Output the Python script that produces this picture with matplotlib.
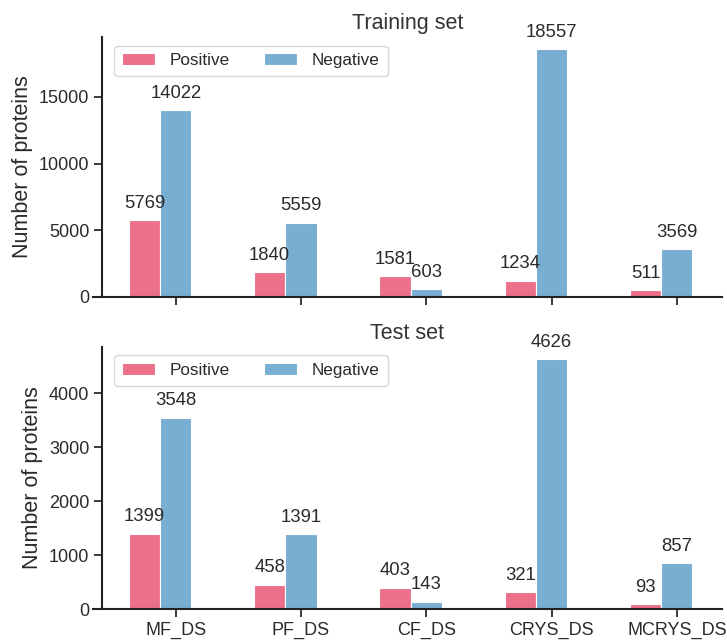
import matplotlib
matplotlib.use("Agg")
import matplotlib.pyplot as plt
import numpy as np
import seaborn as sns

sns.set_style("ticks")
plt.rcParams['font.family'] = ['Liberation Sans', 'DejaVu Sans']

categories = ["MF_DS", "PF_DS", "CF_DS", "CRYS_DS", "MCRYS_DS"]
train_pos = [5769, 1840, 1581, 1234, 511]
train_neg = [14022, 5559, 603, 18557, 3569]
test_pos = [1399, 458, 403, 321, 93]
test_neg = [3548, 1391, 143, 4626, 857]

pos_color = "#ec7089"
neg_color = "#79aed3"
txt = "#2a2a2a"
w = 0.25

fig = plt.figure(figsize=(7.27, 6.4), dpi=100)
ax1 = fig.add_axes([0.128, 0.536, 0.865, 0.406])
ax2 = fig.add_axes([0.128, 0.048, 0.865, 0.410])

x = np.arange(len(categories))

def draw(ax, pos, neg, title, show_labels):
    b1 = ax.bar(x - w, pos, w, color=pos_color, edgecolor="white", linewidth=0.8, label="Positive")
    b2 = ax.bar(x, neg, w, color=neg_color, edgecolor="white", linewidth=0.8, label="Negative")
    for bars in (b1, b2):
        for r in bars:
            ax.annotate(f"{int(r.get_height())}", (r.get_x() + r.get_width() / 2, r.get_height()),
                        xytext=(0, 6), textcoords="offset points", ha="center", va="bottom",
                        fontsize=13.3, color=txt)
    ax.set_title(title, fontsize=15.5, color="#333333", pad=6)
    ax.set_ylabel("Number of proteins", fontsize=15.5, color=txt, labelpad=4)
    ax.set_xticks(x)
    if show_labels:
        ax.set_xticklabels(categories, fontsize=13)
    else:
        ax.set_xticklabels([])
    ax.tick_params(axis="y", labelsize=13, colors=txt)
    ax.tick_params(axis="x", colors=txt)
    ax.tick_params(length=6, width=1.3, pad=3)
    for s in ("top", "right"):
        ax.spines[s].set_visible(False)
    for s in ("left", "bottom"):
        ax.spines[s].set_linewidth(1.5)
        ax.spines[s].set_color("#222222")
    ax.spines["left"].set_position(("axes", 0.014))
    ax.set_xlim(-0.66, 4.36)
    leg = ax.legend(loc="upper left", ncol=2, fontsize=12.3, frameon=True,
                    bbox_to_anchor=(0.02, 1.0), handlelength=1.95, columnspacing=2.0,
                    handletextpad=0.85, borderpad=0.45)
    leg.get_frame().set_edgecolor("#cccccc")
    for t in leg.get_texts():
        t.set_color(txt)

draw(ax1, train_pos, train_neg, "Training set", False)
ax1.set_yticks([0, 5000, 10000, 15000])
draw(ax2, test_pos, test_neg, "Test set", True)
ax2.set_yticks([0, 1000, 2000, 3000, 4000])

fig.savefig("out.png", dpi=100)
